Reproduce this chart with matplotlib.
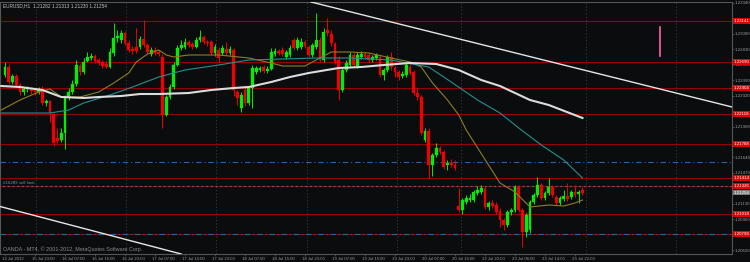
# EURUSD H1 chart (MT4 style) redrawn with matplotlib
# saves out.png

import numpy as np
import matplotlib.pyplot as plt
from matplotlib.transforms import blended_transform_factory, ScaledTranslation

# ---- candles (bar index = position in list) ----
opens = [1.22547, 1.22635, 1.22470, 1.22536, 1.22437, 1.22360, 1.22393, 1.22404, 1.22382, 1.22360,
         1.22393, 1.22239, 1.22261, 1.22118, 1.21854, 1.21832, 1.21909, 1.22305, 1.22360, 1.22448,
         1.22646, 1.22580, 1.22701, 1.22734, 1.22756, 1.22712, 1.22690, 1.22668, 1.22635, 1.22789,
         1.22954, 1.22932, 1.23009, 1.22899, 1.22833, 1.22855, 1.22855, 1.22943, 1.22877, 1.22778,
         1.22822, 1.22800, 1.22745, 1.22107, 1.22305, 1.22415, 1.22657, 1.22844, 1.22855, 1.22910,
         1.22888, 1.22855, 1.22932, 1.22965, 1.22910, 1.22910, 1.22789, 1.22822, 1.22789, 1.22833,
         1.22789, 1.22822, 1.22360, 1.22184, 1.22382, 1.22239, 1.22404, 1.22580, 1.22602, 1.22635,
         1.22591, 1.22613, 1.22778, 1.22811, 1.22822, 1.22745, 1.22767, 1.22932, 1.22844, 1.22855,
         1.22910, 1.22855, 1.22767, 1.22855, 1.22932, 1.22712, 1.23042, 1.22998, 1.22888, 1.22712,
         1.22382, 1.22602, 1.22657, 1.22767, 1.22646, 1.22745, 1.22778, 1.22767, 1.22712, 1.22734,
         1.22745, 1.22547, 1.22602, 1.22745, 1.22624, 1.22580, 1.22536, 1.22547, 1.22635, 1.22580,
         1.22349, 1.22305, 1.21832, 1.21931, 1.21557, 1.21667, 1.21744, 1.21700, 1.21557, 1.21579,
         1.21557, 1.21106, 1.21062, 1.21150, 1.21172, 1.21172, 1.21249, 1.21260, 1.21293, 1.21095,
         1.21139, 1.21117, 1.21051, 1.20952, 1.20897, 1.21040, 1.21062, 1.21315, 1.21062, 1.20820,
         1.20842, 1.21150, 1.21227, 1.21337, 1.21194, 1.21249, 1.21315, 1.21205, 1.21139, 1.21183,
         1.21216, 1.21205, 1.21260, 1.21238, 1.21282]
highs = [1.22690, 1.22668, 1.22558, 1.22558, 1.22459, 1.22415, 1.22426, 1.22415, 1.22404, 1.22415,
         1.22426, 1.22283, 1.22272, 1.22129, 1.21964, 1.21964, 1.22327, 1.22404, 1.22492, 1.22712,
         1.22668, 1.22734, 1.22800, 1.22789, 1.22778, 1.22734, 1.22712, 1.22701, 1.22844, 1.23119,
         1.23042, 1.23042, 1.23031, 1.22932, 1.22866, 1.23064, 1.22976, 1.23152, 1.22899, 1.22855,
         1.22855, 1.22822, 1.22778, 1.22327, 1.22448, 1.22690, 1.22877, 1.22932, 1.22954, 1.22932,
         1.22910, 1.22965, 1.23042, 1.22987, 1.22932, 1.22932, 1.22888, 1.22855, 1.22877, 1.22910,
         1.22866, 1.22844, 1.22382, 1.22360, 1.22437, 1.22426, 1.22657, 1.22646, 1.22646, 1.22657,
         1.22646, 1.22844, 1.22844, 1.22833, 1.22855, 1.22822, 1.22877, 1.22954, 1.22965, 1.22954,
         1.22932, 1.22877, 1.22899, 1.23229, 1.22965, 1.23064, 1.23174, 1.23042, 1.22910, 1.22756,
         1.22624, 1.22712, 1.22800, 1.22789, 1.22800, 1.22811, 1.22800, 1.22789, 1.22767, 1.22789,
         1.22767, 1.22624, 1.22767, 1.22800, 1.22646, 1.22602, 1.22591, 1.22679, 1.22668, 1.22602,
         1.22404, 1.22327, 1.21964, 1.21964, 1.21689, 1.21799, 1.21766, 1.21722, 1.21612, 1.21623,
         1.21612, 1.21304, 1.21194, 1.21227, 1.21238, 1.21282, 1.21326, 1.21337, 1.21326, 1.21161,
         1.21172, 1.21150, 1.21084, 1.20974, 1.21062, 1.21084, 1.21337, 1.21337, 1.21084, 1.21029,
         1.21172, 1.21249, 1.21425, 1.21359, 1.21271, 1.21414, 1.21337, 1.21227, 1.21216, 1.21282,
         1.21359, 1.21282, 1.21337, 1.21282, 1.21313]
lows = [1.22525, 1.22448, 1.22448, 1.22415, 1.22327, 1.22327, 1.22360, 1.22338, 1.22327, 1.22338,
        1.22217, 1.22206, 1.22030, 1.21766, 1.21799, 1.21810, 1.21733, 1.22272, 1.22338, 1.22426,
        1.22547, 1.22558, 1.22690, 1.22712, 1.22679, 1.22657, 1.22624, 1.22624, 1.22624, 1.22756,
        1.22910, 1.22899, 1.22877, 1.22800, 1.22778, 1.22789, 1.22833, 1.22855, 1.22778, 1.22756,
        1.22767, 1.22756, 1.21964, 1.22096, 1.22283, 1.22393, 1.22646, 1.22822, 1.22833, 1.22855,
        1.22833, 1.22844, 1.22910, 1.22888, 1.22866, 1.22767, 1.22756, 1.22690, 1.22767, 1.22767,
        1.22767, 1.22316, 1.22217, 1.22140, 1.22206, 1.22217, 1.22184, 1.22558, 1.22580, 1.22569,
        1.22569, 1.22602, 1.22756, 1.22767, 1.22756, 1.22723, 1.22745, 1.22822, 1.22822, 1.22833,
        1.22844, 1.22745, 1.22745, 1.22833, 1.22690, 1.22690, 1.22976, 1.22866, 1.22668, 1.22272,
        1.22360, 1.22580, 1.22635, 1.22635, 1.22624, 1.22723, 1.22723, 1.22690, 1.22690, 1.22712,
        1.22525, 1.22492, 1.22580, 1.22602, 1.22525, 1.22492, 1.22514, 1.22525, 1.22547, 1.22327,
        1.22272, 1.21887, 1.21810, 1.21414, 1.21436, 1.21645, 1.21678, 1.21513, 1.21502, 1.21535,
        1.21502, 1.21040, 1.21018, 1.21128, 1.21150, 1.21150, 1.21227, 1.21238, 1.21073, 1.21062,
        1.21084, 1.21018, 1.20875, 1.20842, 1.20875, 1.21007, 1.21040, 1.21040, 1.20655, 1.20765,
        1.20809, 1.21128, 1.21205, 1.21172, 1.21172, 1.21227, 1.21205, 1.21117, 1.21117, 1.21161,
        1.21161, 1.21183, 1.21205, 1.21139, 1.21230]
closes = [1.22635, 1.22470, 1.22536, 1.22437, 1.22360, 1.22393, 1.22404, 1.22371, 1.22360, 1.22393,
          1.22239, 1.22261, 1.22129, 1.21799, 1.21821, 1.21909, 1.22305, 1.22360, 1.22448, 1.22657,
          1.22580, 1.22690, 1.22745, 1.22756, 1.22701, 1.22679, 1.22646, 1.22635, 1.22800, 1.22954,
          1.22976, 1.23009, 1.22899, 1.22822, 1.22811, 1.22811, 1.22943, 1.22877, 1.22800, 1.22822,
          1.22789, 1.22778, 1.22107, 1.22305, 1.22415, 1.22657, 1.22844, 1.22877, 1.22910, 1.22877,
          1.22855, 1.22932, 1.22965, 1.22910, 1.22899, 1.22789, 1.22855, 1.22734, 1.22844, 1.22789,
          1.22833, 1.22382, 1.22294, 1.22327, 1.22239, 1.22404, 1.22624, 1.22624, 1.22624, 1.22591,
          1.22613, 1.22800, 1.22811, 1.22789, 1.22778, 1.22800, 1.22844, 1.22844, 1.22932, 1.22910,
          1.22866, 1.22767, 1.22877, 1.22932, 1.22712, 1.23020, 1.23009, 1.22899, 1.22690, 1.22382,
          1.22602, 1.22679, 1.22767, 1.22657, 1.22767, 1.22778, 1.22745, 1.22712, 1.22745, 1.22767,
          1.22547, 1.22602, 1.22745, 1.22635, 1.22580, 1.22525, 1.22558, 1.22657, 1.22569, 1.22349,
          1.22305, 1.21909, 1.21931, 1.21557, 1.21667, 1.21744, 1.21700, 1.21535, 1.21579, 1.21557,
          1.21524, 1.21062, 1.21172, 1.21194, 1.21194, 1.21260, 1.21282, 1.21304, 1.21095, 1.21139,
          1.21106, 1.21040, 1.20952, 1.20897, 1.21040, 1.21062, 1.21315, 1.21062, 1.20820, 1.21007,
          1.21150, 1.21227, 1.21337, 1.21194, 1.21249, 1.21315, 1.21227, 1.21139, 1.21194, 1.21216,
          1.21183, 1.21260, 1.21227, 1.21260, 1.21254]

# ---- moving averages (bar, price) ----
ma_slow_bars = [-1, 4, 10, 15, 21, 25, 31, 36, 41, 49, 55, 61, 65, 71, 76, 81, 89, 95, 101, 108,
                115, 121, 127, 132, 140, 145, 154]
ma_slow = [1.22426, 1.22415, 1.22382, 1.22305, 1.22294, 1.22305, 1.22316, 1.22338, 1.22338, 1.22349,
           1.22382, 1.22404, 1.22415, 1.22470, 1.22525, 1.22569, 1.22624, 1.22635, 1.22657, 1.22679,
           1.22668, 1.22602, 1.22492, 1.22426, 1.22272, 1.22217, 1.22074]
ma_mid_bars = [-1, 12, 17, 21, 28, 34, 41, 48, 57, 65, 74, 83, 92, 103, 107, 113, 119, 126, 132,
               137, 143, 149, 154]
ma_mid = [1.22129, 1.22129, 1.22162, 1.22239, 1.22327, 1.22415, 1.22525, 1.22602, 1.22657, 1.22712,
          1.22723, 1.22734, 1.22734, 1.22712, 1.22679, 1.22635, 1.22470, 1.22272, 1.22129, 1.21964,
          1.21777, 1.21612, 1.21414]
ma_fast_bars = [-1, 4, 9, 12, 15, 20, 25, 29, 33, 35, 38, 41, 43, 45, 49, 57, 65, 71, 74, 80,
                83, 87, 92, 97, 103, 108, 111, 114, 118, 121, 123, 132, 136, 140, 145, 149, 152, 154]
ma_fast = [1.22162, 1.22272, 1.22360, 1.22393, 1.22305, 1.22305, 1.22360, 1.22459, 1.22569, 1.22690,
           1.22778, 1.22822, 1.22767, 1.22745, 1.22767, 1.22767, 1.22734, 1.22679, 1.22646, 1.22646,
           1.22712, 1.22800, 1.22800, 1.22789, 1.22734, 1.22690, 1.22635, 1.22459, 1.22272, 1.22107,
           1.21942, 1.21359, 1.21260, 1.21095, 1.21117, 1.21106, 1.21139, 1.21172]

# ---- objects ----
level_prices = [1.23141, 1.22690, 1.22404, 1.22118, 1.21788, 1.21414, 1.21018, 1.20798]
pending_price = 1.21326
blue_levels = [1.21590, 1.20798]
bid_price = 1.21254
trend_up_bars = [81.6, 193.9]
trend_up_prices = [1.23350, 1.22195]
trend_low_bars = [-0.8, 48]
trend_low_prices = [1.21095, 1.20567]
pink_bar = 174.7
pink_prices = [1.23075, 1.22756]
grid_bars = [8.3, 32.3, 56.3, 80.5, 104.5, 121.6, 155, 179]

# scale labels that are not hidden under the price boxes
price_ticks = [1.20620, 1.20960, 1.21130, 1.21470, 1.21640, 1.21980, 1.22320, 1.22490,
               1.22660, 1.22830, 1.23000, 1.23340]
time_bars = [0, 8, 16, 24, 32, 40, 48, 56, 64, 72, 80, 88, 96, 104, 112, 120, 128, 136, 144, 152]
time_labels = ['13 Jul 2012', '15 Jul 23:00', '16 Jul 07:00', '16 Jul 15:00', '16 Jul 23:00',
               '17 Jul 07:00', '17 Jul 15:00', '17 Jul 23:00', '18 Jul 07:00', '18 Jul 15:00',
               '18 Jul 23:00', '19 Jul 07:00', '19 Jul 15:00', '19 Jul 23:00', '20 Jul 07:00',
               '20 Jul 15:00', '22 Jul 22:00', '23 Jul 06:00', '23 Jul 14:00', '23 Jul 22:00']

title = 'EURUSD,H1  1.21282 1.21313 1.21230 1.21254'
copyright_txt = 'OANDA - MT4, \u00a9 2001-2012, MetaQuotes Software Corp.'

BG = '#0b0c0e'
plt.rcParams['font.family'] = ['Liberation Sans', 'DejaVu Sans']

fig = plt.figure(figsize=(7.5, 2.62), dpi=100, facecolor=BG)
ax = fig.add_axes([0, 8 / 262, 732 / 750, 252 / 262])
ax.set_facecolor(BG)
ax.set_xlim(-1.333, 193.87)
ax.set_ylim(1.20578, 1.23350)
for s in ax.spines.values():
    s.set_color('#555555')
    s.set_linewidth(0.8)

# grid verticals
for b in grid_bars:
    ax.axvline(b, color='#3c3c3c', lw=0.6, ls=(0, (1.5, 2.5)), zorder=1)

# horizontal levels
for p in level_prices:
    ax.axhline(p, color='#960000', lw=0.85, zorder=2)
ax.axhline(pending_price, color='#960000', lw=0.85, ls=(0, (2, 2)), zorder=2)
ax.axhline(pending_price, color='#606060', lw=0.85, ls=(2, (2, 2)), zorder=2)
for p in blue_levels:
    ax.axhline(p, color='#2464a8', lw=0.8, ls=(0, (5, 2.5, 1, 2.5)), zorder=2.5)

# candles
o = np.array(opens)
h = np.array(highs)
l = np.array(lows)
c = np.array(closes)
idx = np.arange(len(o))
cols = np.where(c >= o, '#00ee00', '#f00000')
ax.vlines(idx, l, h, colors=cols, lw=0.7, zorder=4)
ax.bar(idx, np.maximum(np.abs(c - o), 0.00004), bottom=np.minimum(o, c), width=0.72,
       color=cols, edgecolor=cols, linewidth=0.2, zorder=5)

# moving averages
ax.plot(ma_fast_bars, ma_fast, color='#8f7d22', lw=0.8, zorder=6)
ax.plot(ma_mid_bars, ma_mid, color='#23908f', lw=0.8, zorder=6)
ax.plot(ma_slow_bars, ma_slow, color='#dcdcdc', lw=1.5, zorder=6)

# trend lines
ax.axline((trend_up_bars[0], trend_up_prices[0]), (trend_up_bars[1], trend_up_prices[1]),
          color='#e6e6e6', lw=1.0, zorder=7)
ax.axline((trend_low_bars[0], trend_low_prices[0]), (trend_low_bars[1], trend_low_prices[1]),
          color='#e6e6e6', lw=1.0, zorder=7)
ax.plot([pink_bar, pink_bar], pink_prices, color='#ff5fa8', lw=1.2, zorder=7)

# price axis on the right
ax.yaxis.tick_right()
ax.set_yticks(price_ticks, [f'{v:.5f}' for v in price_ticks])
ax.tick_params(axis='y', labelsize=3.2, labelcolor='#9a9a9a', color='#606060',
               length=1.2, width=0.5, pad=0.8)
ax.set_xticks(time_bars, time_labels)
ax.tick_params(axis='x', labelsize=3.1, labelcolor='#9a9a9a', color='#606060',
               length=1.5, width=0.5, pad=0.4)
shift = ScaledTranslation(-3.3 / 100, 0, fig.dpi_scale_trans)
for lab in ax.get_xticklabels():
    lab.set_ha('left')
    lab.set_transform(lab.get_transform() + shift)

tr = blended_transform_factory(ax.transAxes, ax.transData)
for p in level_prices + [pending_price]:
    ax.text(1.002, p, f'{p:.5f}', transform=tr, ha='left', va='center', fontsize=3.2,
            color='white', clip_on=False, zorder=10,
            bbox=dict(boxstyle='square,pad=0.2', fc='#e00000', ec='none'))
ax.text(1.002, bid_price, f'{bid_price:.5f}', transform=tr, ha='left', va='center', fontsize=3.2,
        color='white', clip_on=False, zorder=10,
        bbox=dict(boxstyle='square,pad=0.2', fc='#7d7d7d', ec='none'))

ax.text(0.004, pending_price + 0.00006, '#16289 sell limit', transform=tr, ha='left',
        va='bottom', fontsize=3.2, color='#8a8a8a', zorder=8)

fig.text(3 / 750, 1 - 5.5 / 262, title, fontsize=3.4, color='#c8c8c8', va='center')
fig.text(3 / 750, 1 - 249 / 262, copyright_txt, fontsize=3.9, color='#8c8c8c', va='center')

fig.savefig('out.png', dpi=100, facecolor=BG)
